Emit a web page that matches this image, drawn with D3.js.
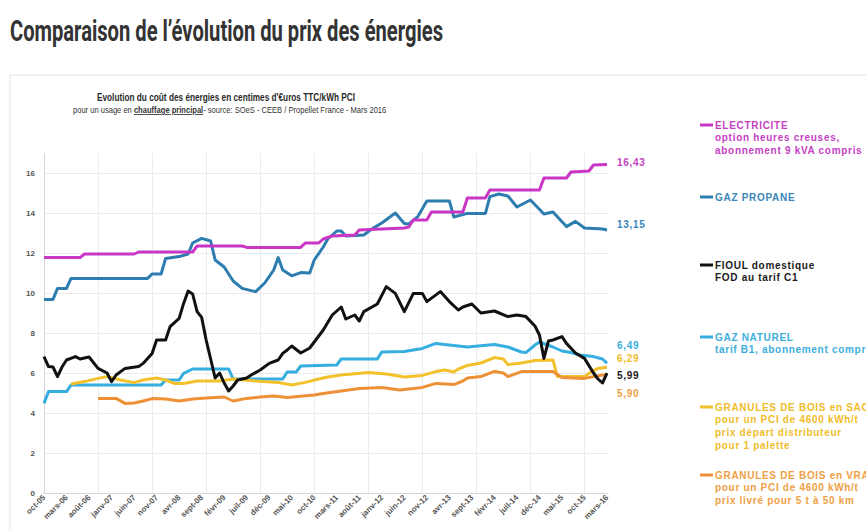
<!DOCTYPE html>
<html>
  <meta charset="utf-8" />
  <style>
    body { margin: 0; background: #fff; }
    svg text { font-family: "Liberation Sans", Arial, sans-serif; }
  </style>
  <svg width="866" height="530"></svg>
  <script src="https://d3js.org/d3.v7.min.js"></script>

  <script>
    // month labels, one every 5 months from oct-05 (index 0) to mars-16 (index 125)
    const monthLabels = [
      "oct-05", "mars-06", "août-06", "janv-07", "juin-07", "nov-07", "avr-08",
      "sept-08", "févr-09", "juil-09", "déc-09", "mai-10", "oct-10", "mars-11",
      "août-11", "janv-12", "juin-12", "nov-12", "avr-13", "sept-13", "févr-14",
      "juil-14", "déc-14", "mai-15", "oct-15", "mars-16",
    ];
    const yTicks = [0, 2, 4, 6, 8, 10, 12, 14, 16];

    // [month index since oct-05, c€/kWh]
    const electricite = [
      [0, 11.77], [8, 11.77], [9, 11.95], [20, 11.95], [21, 12.05], [33, 12.05],
      [34, 12.35], [44, 12.35], [45, 12.28], [57, 12.28], [58, 12.5], [61, 12.5],
      [62, 12.7], [64, 12.85], [69, 12.9], [70, 13.15], [80, 13.25], [81, 13.3],
      [82, 13.65], [85, 13.65], [86, 14.05], [93, 14.05], [94, 14.75], [98, 14.75],
      [99, 15.15], [110, 15.15], [111, 15.75], [116, 15.75], [117, 16.05],
      [121, 16.1], [122, 16.4], [125, 16.43],
    ];
    const gazPropane = [
      [0, 9.68], [2, 9.68], [3, 10.23], [5, 10.23], [6, 10.73], [23, 10.73],
      [24, 10.95], [26, 10.95], [27, 11.73], [30, 11.82], [32, 11.95], [33, 12.5],
      [35, 12.73], [37, 12.6], [38, 11.65], [40, 11.3], [42, 10.6], [44, 10.23],
      [46, 10.12], [47, 10.07], [49, 10.5], [50, 10.82], [51, 11.15], [52, 11.77],
      [53, 11.15], [55, 10.86], [57, 11.02], [59, 11.0], [60, 11.65], [62, 12.3],
      [63, 12.7], [65, 13.1], [66, 13.1], [67, 12.85], [71, 12.9], [73, 13.23],
      [75, 13.5], [78, 14.0], [80, 13.48], [81, 13.45], [83, 13.82], [85, 14.6],
      [90, 14.6], [91, 13.8], [94, 13.98], [98, 13.98], [99, 14.82], [101, 14.95],
      [103, 14.85], [105, 14.3], [108, 14.65], [111, 13.95], [113, 14.05],
      [116, 13.32], [118, 13.58], [120, 13.25], [124, 13.2], [125, 13.15],
    ];
    const fioul = [
      [0, 6.82], [1, 6.32], [2, 6.3], [3, 5.82], [4, 6.3], [5, 6.65], [7, 6.82],
      [8, 6.7], [10, 6.8], [12, 6.23], [14, 6.0], [15, 5.57], [16, 5.9], [18, 6.23],
      [21, 6.32], [22, 6.48], [24, 6.98], [25, 7.65], [27, 7.65], [28, 8.32],
      [30, 8.73], [31, 9.48], [32, 10.1], [33, 9.95], [34, 9.07], [35, 8.78],
      [36, 7.65], [37, 6.7], [38, 5.75], [39, 6.0], [40, 5.5], [41, 5.1], [42, 5.35],
      [43, 5.65], [45, 5.75], [46, 5.9], [48, 6.15], [50, 6.48], [52, 6.65],
      [53, 6.98], [54, 7.15], [55, 7.35], [57, 7.0], [59, 7.25], [60, 7.55],
      [62, 8.15], [64, 8.9], [66, 9.3], [67, 8.7], [69, 8.9], [70, 8.6], [71, 9.07],
      [74, 9.45], [76, 10.32], [78, 9.98], [80, 9.07], [82, 9.98], [84, 9.98],
      [85, 9.57], [88, 10.07], [90, 9.57], [92, 9.15], [93, 9.3], [95, 9.45],
      [97, 9.0], [100, 9.1], [103, 8.82], [105, 8.9], [107, 8.82], [109, 8.35],
      [110, 7.9], [111, 6.73], [112, 7.6], [113, 7.65], [115, 7.82], [116, 7.48],
      [118, 7.0], [120, 6.73], [122, 6.0], [123, 5.7], [124, 5.5], [125, 5.99],
    ];
    const gazNaturel = [
      [0, 4.48], [1, 5.07], [5, 5.07], [6, 5.4], [26, 5.4], [27, 5.65], [30, 5.65],
      [31, 5.98], [33, 6.2], [41, 6.2], [42, 5.7], [53, 5.7], [54, 6.05], [56, 6.05],
      [57, 6.35], [65, 6.4], [66, 6.7], [74, 6.7], [75, 7.05], [80, 7.07],
      [84, 7.23], [87, 7.48], [89, 7.42], [94, 7.3], [100, 7.42], [103, 7.3],
      [106, 7.05], [107, 7.02], [109, 7.4], [110, 7.55], [113, 7.3], [115, 7.1],
      [117, 7.02], [119, 6.9], [122, 6.82], [124, 6.7], [125, 6.49],
    ];
    const granulesSac = [
      [6, 5.45], [9, 5.57], [12, 5.73], [14, 5.82], [17, 5.65], [20, 5.52],
      [22, 5.65], [25, 5.75], [27, 5.65], [29, 5.47], [31, 5.48], [34, 5.6],
      [39, 5.6], [42, 5.7], [47, 5.6], [52, 5.52], [55, 5.4], [58, 5.53], [61, 5.7],
      [63, 5.8], [66, 5.9], [72, 6.02], [76, 5.95], [80, 5.8], [84, 5.88],
      [87, 6.07], [89, 6.15], [91, 6.05], [92, 6.2], [94, 6.38], [97, 6.5],
      [100, 6.77], [102, 6.7], [103, 6.42], [106, 6.5], [109, 6.62], [113, 6.65],
      [114, 5.82], [120, 5.82], [121, 5.98], [123, 6.23], [125, 6.29],
    ];
    const granulesVrac = [
      [12, 4.73], [16, 4.73], [18, 4.48], [20, 4.5], [22, 4.6], [24, 4.72],
      [27, 4.7], [30, 4.6], [33, 4.7], [36, 4.75], [40, 4.8], [42, 4.6], [45, 4.73],
      [48, 4.8], [51, 4.85], [54, 4.78], [60, 4.9], [62, 4.98], [66, 5.1],
      [70, 5.23], [75, 5.28], [79, 5.15], [84, 5.28], [87, 5.48], [91, 5.42],
      [93, 5.6], [94, 5.75], [97, 5.82], [100, 6.08], [102, 6.0], [103, 5.82],
      [106, 6.07], [113, 6.07], [115, 5.77], [120, 5.73], [124, 5.9], [125, 5.9],
    ];
    const endLabels = ["16,43", "13,15", "5,99", "6,49", "6,29", "5,90"];

    const legendTexts = [
      ["ELECTRICITE", "option heures creuses,", "abonnement 9 kVA compris"],
      ["GAZ PROPANE"],
      ["FIOUL domestique", "FOD au tarif C1"],
      ["GAZ NATUREL", "tarif B1, abonnement compris"],
      ["GRANULES DE BOIS en SAC", "pour un PCI de 4600 kWh/t", "prix départ distributeur", "pour 1 palette"],
      ["GRANULES DE BOIS en VRAC", "pour un PCI de 4600 kWh/t", "prix livré pour 5 t à 50 km"],
    ];

    // styles / layout
    const series = [
      { data: electricite, color: "#c936c6", text: "#c63fc4", legendY: 125, labelDy: -2 },
      { data: gazPropane, color: "#2e7db0", text: "#3a87ba", legendY: 197, labelDy: -6 },
      { data: fioul, color: "#111111", text: "#1a1a1a", legendY: 265, labelDy: 2 },
      { data: gazNaturel, color: "#36aee0", text: "#3caedd", legendY: 337, labelDy: -18 },
      { data: granulesSac, color: "#f3c12c", text: "#f0bc2a", legendY: 407, labelDy: -9 },
      { data: granulesVrac, color: "#ee9136", text: "#f0a045", legendY: 475, labelDy: 18 },
    ];
    const drawOrder = [3, 4, 5, 2, 1, 0];

    const svg = d3.select("svg");

    svg.append("text")
      .attr("x", 10).attr("y", 41)
      .attr("textLength", 433).attr("lengthAdjust", "spacingAndGlyphs")
      .style("font-family", '"Liberation Sans Narrow", "Roboto", sans-serif')
      .style("font-size", "30px").style("font-weight", "bold")
      .attr("fill", "#333")
      .text("Comparaison de l’évolution du prix des énergies");

    svg.append("rect")
      .attr("x", 10).attr("y", 75).attr("width", 880).attr("height", 480)
      .attr("fill", "#fff").attr("stroke", "#e3e3e3");

    svg.append("text")
      .attr("x", 97).attr("y", 101)
      .attr("textLength", 258).attr("lengthAdjust", "spacingAndGlyphs")
      .style("font-size", "11px").style("font-weight", "bold")
      .attr("fill", "#2a2a2a")
      .text("Evolution du coût des énergies en centimes d'€uros TTC/kWh PCI");

    // second subtitle line: mixed styles, squeezed horizontally to its width
    const subG = svg.append("g");
    const sub = subG.append("text")
      .attr("x", 0).attr("y", 0)
      .style("font-size", "8.5px").attr("fill", "#333");
    sub.append("tspan").text("pour un usage en ");
    sub.append("tspan").style("font-weight", "bold").style("text-decoration", "underline")
      .text("chauffage principal");
    sub.append("tspan").text("- source: SOeS - CEEB / Propellet France -   Mars 2016");
    const subW = sub.node().getComputedTextLength();
    subG.attr("transform", `translate(73,113) scale(${314 / subW},1)`);

    const x = d3.scaleLinear().domain([0, 125]).range([44, 607]);
    const y = d3.scaleLinear().domain([0, 17]).range([493, 153]);

    // grid
    const grid = svg.append("g").attr("stroke", "#ebebeb").attr("stroke-width", 1);
    grid.selectAll(".h").data(yTicks).join("line")
      .attr("x1", x(0)).attr("x2", x(125) + 1)
      .attr("y1", (d) => Math.round(y(d)) + 0.5).attr("y2", (d) => Math.round(y(d)) + 0.5);
    grid.selectAll(".v").data(d3.range(0, 126, 12)).join("line")
      .attr("y1", y(17)).attr("y2", y(0))
      .attr("x1", (d) => Math.round(x(d)) + 0.5).attr("x2", (d) => Math.round(x(d)) + 0.5);

    svg.append("line")
      .attr("x1", x(0) + 0.5).attr("x2", x(0) + 0.5).attr("y1", y(17)).attr("y2", y(0))
      .attr("stroke", "#d6d6d6");
    svg.append("line")
      .attr("x1", x(0)).attr("x2", x(125) + 1).attr("y1", y(0) + 0.5).attr("y2", y(0) + 0.5)
      .attr("stroke", "#d6d6d6");

    // y labels
    svg.append("g").selectAll("text").data(yTicks).join("text")
      .attr("x", 35).attr("y", (d) => y(d) + 3)
      .attr("text-anchor", "end")
      .style("font-size", "8px").style("font-weight", "bold")
      .attr("fill", "#555")
      .text((d) => d);

    // x labels
    svg.append("g").selectAll("text").data(monthLabels).join("text")
      .attr("transform", (d, i) => `translate(${x(i * 5) + 2},${y(0) + 5}) rotate(-45)`)
      .attr("text-anchor", "end")
      .style("font-size", "8px").style("font-weight", "bold")
      .attr("fill", "#555")
      .text((d) => d);

    // lines
    const line = d3.line().x((d) => x(d[0])).y((d) => y(d[1]));
    svg.append("g").selectAll("path").data(drawOrder.map((i) => series[i])).join("path")
      .attr("d", (s) => line(s.data))
      .attr("fill", "none")
      .attr("stroke", (s) => s.color)
      .attr("stroke-width", 3)
      .attr("stroke-linejoin", "round");

    // end values
    svg.append("g").selectAll("text").data(series).join("text")
      .attr("x", 617)
      .attr("y", (s) => y(s.data[s.data.length - 1][1]) + s.labelDy + 3.5)
      .style("font-size", "10px").style("font-weight", "bold")
      .style("letter-spacing", "0.7px")
      .attr("fill", (s) => s.text)
      .text((s, i) => endLabels[i]);

    // legend
    const leg = svg.append("g").selectAll("g").data(series).join("g");
    leg.append("line")
      .attr("x1", 700).attr("x2", 713)
      .attr("y1", (s) => s.legendY).attr("y2", (s) => s.legendY)
      .attr("stroke", (s) => s.color).attr("stroke-width", 3);
    leg.each(function (s, i) {
      d3.select(this).selectAll("text").data(legendTexts[i]).join("text")
        .attr("x", 715)
        .attr("y", (t, j) => s.legendY + 3.5 + j * 12.7)
        .style("font-size", "10px").style("font-weight", "bold")
        .style("letter-spacing", "0.7px")
        .attr("fill", s.text)
        .text((t) => t);
    });
  </script>
</html>
